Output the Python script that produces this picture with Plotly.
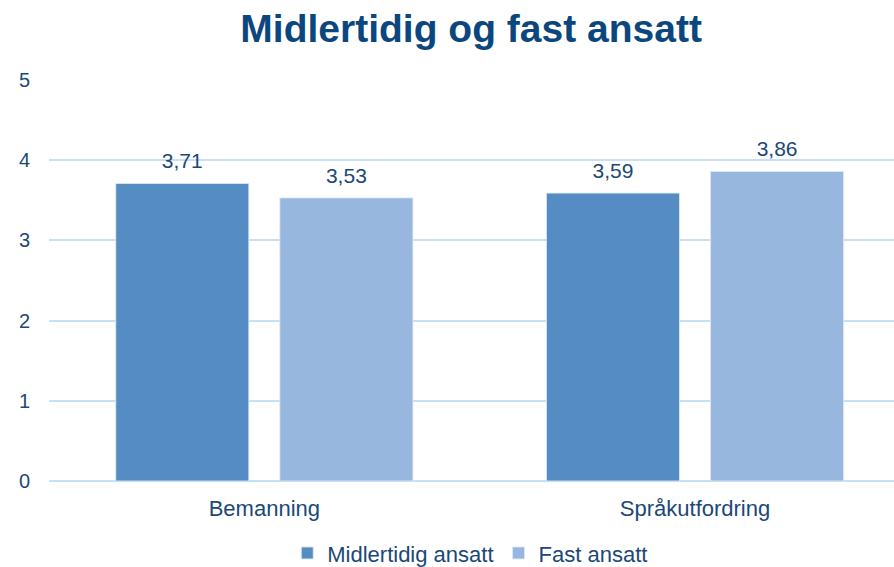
import plotly.graph_objects as go

categories = ["Bemanning", "Språkutfordring"]
midlertidig = [3.71, 3.59]
fast = [3.53, 3.86]
series_names = ["Midlertidig ansatt", "Fast ansatt"]
y_ticks = [0, 1, 2, 3, 4, 5]
title_text = "Midlertidig og fast ansatt"

FONT = "Liberation Sans, Arial, sans-serif"
TXT = "#1b4878"
C1 = "#548cc3"
C2 = "#97b7df"

fig = go.Figure()
for name, vals, col in [(series_names[0], midlertidig, C1), (series_names[1], fast, C2)]:
    fig.add_trace(go.Bar(
        x=categories, y=vals, name=name,
        marker=dict(color=col, line=dict(color="rgba(220,232,245,0.9)", width=1)),
        offsetgroup=name,
    ))
for name, vals in [(series_names[0], midlertidig), (series_names[1], fast)]:
    fig.add_trace(go.Scatter(
        x=categories, y=vals, mode="markers+text", showlegend=False,
        offsetgroup=name,
        marker=dict(size=14, opacity=0),
        text=[f"{v:.2f}".replace(".", ",") for v in vals],
        textposition="top center",
        textfont=dict(family=FONT, size=21, color=TXT),
        hoverinfo="skip",
    ))

fig.update_layout(
    width=894, height=567,
    margin=dict(l=49, r=0, t=80, b=86, autoexpand=False),
    paper_bgcolor="white", plot_bgcolor="white",
    barmode="group", bargap=0.238, bargroupgap=0.189,
    scattermode="group", scattergap=0.238,
    title=dict(text=f"<b>{title_text}</b>", x=0.527, xanchor="center",
               y=1 - 28 / 567, yanchor="middle", yref="container",
               font=dict(family=FONT, size=39, color="#0b477e")),
    font=dict(family=FONT, size=20, color=TXT),
    legend=dict(orientation="h", x=0.4985, xanchor="center", y=-0.18, yanchor="middle",
                font=dict(family=FONT, size=22, color=TXT), itemwidth=30,
                traceorder="normal"),
    showlegend=True,
)
fig.update_xaxes(range=[-0.5, 1.462], showgrid=False, showline=False, ticks="",
                 automargin=False,
                 tickfont=dict(family=FONT, size=22, color=TXT), ticklabelstandoff=12)
fig.update_yaxes(range=[0, 5], tickvals=y_ticks, showgrid=True, gridcolor="#c6e0f6",
                 gridwidth=2, zeroline=True, zerolinecolor="#c6e0f6", zerolinewidth=2,
                 automargin=False,
                 showline=False, ticks="", tickfont=dict(family=FONT, size=20, color=TXT),
                 ticklabelstandoff=18)

fig.write_html("out.html", config={"displayModeBar": False},
               post_script="document.body.style.margin='0';")
